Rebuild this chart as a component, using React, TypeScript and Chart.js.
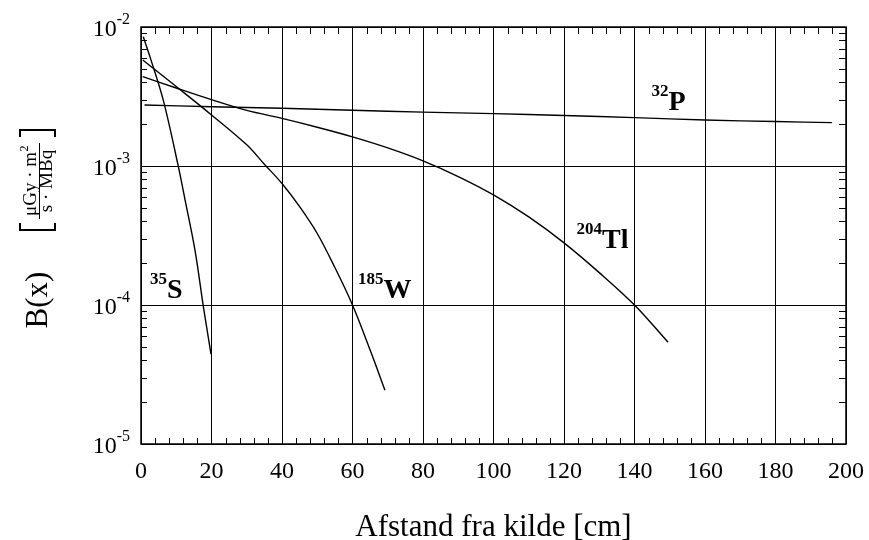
import React, { useEffect, useRef } from "react";
import { Chart, registerables } from "chart.js";

Chart.register(...registerables);

// ---- data ----
const p32X = [1, 20, 40, 60, 80, 100, 120, 140, 160, 180, 196];
const p32Y = [2.75e-3, 2.67e-3, 2.6e-3, 2.52e-3, 2.44e-3, 2.38e-3, 2.31e-3, 2.23e-3, 2.14e-3, 2.09e-3, 2.05e-3];

const s35X = [0.65, 2.55, 6.3, 10.6, 12.5, 15.3, 17.7, 19.86];
const s35Y = [8.5e-3, 6.1e-3, 2.99e-3, 9.9e-4, 5.7e-4, 2.49e-4, 9.7e-5, 4.44e-5];

const w185X = [0.5, 10, 20, 30, 35, 40, 45, 50, 55, 60, 65, 69.2];
const w185Y = [5.79e-3, 3.73e-3, 2.33e-3, 1.42e-3, 1.03e-3, 7.48e-4, 5.1e-4, 3.27e-4, 1.86e-4, 1.0e-4, 4.74e-5, 2.44e-5];

const tl204X = [0.5, 10, 20, 30, 40, 50, 60, 70, 80, 90, 100, 110, 120, 130, 140, 149.5];
const tl204Y = [4.4e-3, 3.64e-3, 3.0e-3, 2.51e-3, 2.2e-3, 1.9e-3, 1.62e-3, 1.35e-3, 1.09e-3, 8.4e-4, 6.2e-4, 4.3e-4, 2.8e-4, 1.71e-4, 1.0e-4, 5.4e-5];

const xTickValues = [0, 20, 40, 60, 80, 100, 120, 140, 160, 180, 200];
const xTickLabels = ["0", "20", "40", "60", "80", "100", "120", "140", "160", "180", "200"];
const yTickValues = [1e-5, 1e-4, 1e-3, 1e-2];
const yTickBase = "10";
const yTickExponents = ["-5", "-4", "-3", "-2"];
const xMinorStep = 4;
const yMinorFactors = [2, 3, 4, 5, 6, 7, 8, 9];

const xTitle = "Afstand fra kilde [cm]";
const yTitleMain = "B(x)";
const yTitleNum = "μGy · m";
const yTitleNumSup = "2";
const yTitleDen = "s · MBq";

const curveNames = [
  { mass: "32", symbol: "P" },
  { mass: "204", symbol: "Tl" },
  { mass: "185", symbol: "W" },
  { mass: "35", symbol: "S" },
];

// label placement (pixels): left edge of mass number, baseline of symbol
const labelPlacement = [
  { left: 651.5, base: 110 },
  { left: 576.5, base: 248 },
  { left: 358, base: 298 },
  { left: 150, base: 298 },
];

const FONT = '"Liberation Serif", "Times New Roman", serif';

const toPoints = (xs: number[], ys: number[]) => xs.map((x, i) => ({ x, y: ys[i] }));

const decorPlugin = {
  id: "decor",
  afterDatasetsDraw(chart: any) {
    const { ctx, chartArea: a, scales } = chart;
    const xs = scales.x;
    const ys = scales.y;
    ctx.save();
    ctx.strokeStyle = "#000";
    ctx.fillStyle = "#000";

    // frame
    ctx.lineWidth = 1.5;
    ctx.strokeRect(a.left, a.top, a.right - a.left, a.bottom - a.top);

    // minor ticks
    ctx.lineWidth = 1;
    ctx.beginPath();
    for (let v = xs.min; v <= xs.max; v += xMinorStep) {
      if (v % 20 === 0) continue;
      const px = Math.round(xs.getPixelForValue(v)) + 0.5;
      ctx.moveTo(px, a.bottom);
      ctx.lineTo(px, a.bottom - 6);
      ctx.moveTo(px, a.top);
      ctx.lineTo(px, a.top + 7);
    }
    for (let d = 0; d < yTickValues.length - 1; d++) {
      for (const f of yMinorFactors) {
        const py = Math.round(ys.getPixelForValue(f * yTickValues[d])) + 0.5;
        ctx.moveTo(a.left, py);
        ctx.lineTo(a.left + 6, py);
        ctx.moveTo(a.right, py);
        ctx.lineTo(a.right - 7, py);
      }
    }
    ctx.stroke();

    // x tick labels
    ctx.font = `24px ${FONT}`;
    ctx.textAlign = "center";
    ctx.textBaseline = "alphabetic";
    xTickValues.forEach((v, i) => {
      ctx.fillText(xTickLabels[i], xs.getPixelForValue(v), a.bottom + 34);
    });

    // y tick labels
    yTickValues.forEach((v, i) => {
      const gy = ys.getPixelForValue(v);
      const supRight = a.left - 11;
      ctx.textAlign = "right";
      ctx.font = `16px ${FONT}`;
      const supW = ctx.measureText(yTickExponents[i]).width;
      ctx.fillText(yTickExponents[i], supRight, gy - 3);
      ctx.font = `24px ${FONT}`;
      ctx.fillText(yTickBase, supRight - supW, gy + 9);
    });

    // x title
    ctx.textAlign = "center";
    ctx.font = `31px ${FONT}`;
    ctx.fillText(xTitle, (a.left + a.right) / 2, 536);

    // y title (rotated)
    ctx.save();
    ctx.rotate(-Math.PI / 2);
    // picture (px, py) -> rotated (X=-py, Y=px)
    ctx.font = `31px ${FONT}`;
    ctx.textAlign = "center";
    ctx.fillText(yTitleMain, -300, 47);
    const fc = -181;
    ctx.font = `19px ${FONT}`;
    const numW = ctx.measureText(yTitleNum).width;
    ctx.font = `12px ${FONT}`;
    const supW2 = ctx.measureText(yTitleNumSup).width;
    const numStart = fc - (numW + supW2) / 2;
    ctx.textAlign = "left";
    ctx.font = `19px ${FONT}`;
    ctx.fillText(yTitleNum, numStart, 36);
    ctx.font = `12px ${FONT}`;
    ctx.fillText(yTitleNumSup, numStart + numW + 0.5, 28);
    ctx.textAlign = "center";
    ctx.font = `19px ${FONT}`;
    ctx.fillText(yTitleDen, fc, 52);
    ctx.lineWidth = 1;
    ctx.beginPath();
    ctx.moveTo(-219, 39.5);
    ctx.lineTo(-143, 39.5);
    ctx.stroke();
    // brackets
    ctx.lineWidth = 2;
    ctx.beginPath();
    ctx.moveTo(-223, 20);
    ctx.lineTo(-230, 20);
    ctx.lineTo(-230, 55);
    ctx.lineTo(-223, 55);
    ctx.moveTo(-137, 20);
    ctx.lineTo(-130, 20);
    ctx.lineTo(-130, 55);
    ctx.lineTo(-137, 55);
    ctx.stroke();
    ctx.restore();

    // curve labels
    ctx.textAlign = "left";
    curveNames.forEach((c, i) => {
      const p = labelPlacement[i];
      ctx.font = `bold 17px ${FONT}`;
      const mw = ctx.measureText(c.mass).width;
      ctx.fillText(c.mass, p.left, p.base - 14);
      ctx.font = `bold 28px ${FONT}`;
      ctx.fillText(c.symbol, p.left + mw, p.base);
    });

    ctx.restore();
  },
};

export default function App() {
  const canvasRef = useRef<HTMLCanvasElement | null>(null);

  useEffect(() => {
    if (!canvasRef.current) return;
    const lineStyle = {
      showLine: true,
      borderColor: "#000",
      backgroundColor: "#000",
      borderWidth: 1.4,
      pointRadius: 0,
      pointHoverRadius: 0,
      fill: false,
      tension: 0.35,
    };
    const chart = new Chart(canvasRef.current, {
      type: "scatter",
      data: {
        datasets: [
          { label: "32P", data: toPoints(p32X, p32Y), ...lineStyle },
          { label: "204Tl", data: toPoints(tl204X, tl204Y), ...lineStyle },
          { label: "185W", data: toPoints(w185X, w185Y), ...lineStyle },
          { label: "35S", data: toPoints(s35X, s35Y), ...lineStyle },
        ],
      },
      options: {
        animation: false,
        responsive: false,
        devicePixelRatio: 1,
        events: [],
        layout: { padding: { left: 141, right: 23, top: 27, bottom: 96 } },
        plugins: { legend: { display: false }, tooltip: { enabled: false }, title: { display: false } },
        scales: {
          x: {
            type: "linear",
            min: 0,
            max: 200,
            afterBuildTicks: (s: any) => {
              s.ticks = xTickValues.map((v) => ({ value: v }));
            },
            ticks: { display: false },
            grid: { color: "#000", lineWidth: 1, drawTicks: false },
            border: { display: false },
          },
          y: {
            type: "logarithmic",
            min: yTickValues[0],
            max: yTickValues[yTickValues.length - 1],
            afterBuildTicks: (s: any) => {
              s.ticks = yTickValues.map((v) => ({ value: v }));
            },
            ticks: { display: false },
            grid: { color: "#000", lineWidth: 1, drawTicks: false },
            border: { display: false },
          },
        },
      },
      plugins: [decorPlugin],
    });
    return () => chart.destroy();
  }, []);

  return (
    <div style={{ position: "fixed", left: 0, top: 0, width: 869, height: 540, background: "#fff" }}>
      <canvas ref={canvasRef} width={869} height={540} style={{ display: "block" }} />
    </div>
  );
}
